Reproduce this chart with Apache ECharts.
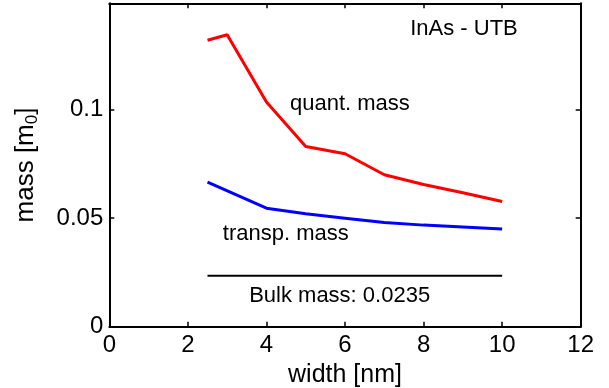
<!DOCTYPE html>
<html>
<head>
<meta charset="utf-8">
<script src="https://cdn.jsdelivr.net/npm/echarts@6/dist/echarts.min.js"></script>
<style>
html,body{margin:0;padding:0;background:#fff;}
#chart{width:609px;height:388px;}
</style>
</head>
<body>
<div id="chart"></div>
<script>
// Data
var quantWidths = [2.5, 3, 4, 5, 6, 7, 8, 9, 10];
var quantMass   = [0.132, 0.1345, 0.1035, 0.083, 0.0797, 0.070, 0.0655, 0.0617, 0.0577];
var transpWidths = [2.5, 4, 5, 6, 7, 8, 9, 10];
var transpMass   = [0.0666, 0.0546, 0.052, 0.050, 0.048, 0.0468, 0.0459, 0.045];
var bulkWidths = [2.5, 10];
var bulkMassValue = 0.0235;
var xTicks = [0, 2, 4, 6, 8, 10, 12];
var yTicks = [0, 0.05, 0.1];

function pairs(xs, ys) { return xs.map(function (x, i) { return [x, ys[i]]; }); }

var FONT = 'Liberation Sans';
var chart = echarts.init(document.getElementById('chart'), null, {renderer: 'canvas'});

function textMark(coord, text, size) {
  return {
    coord: coord, symbol: 'circle', symbolSize: 0,
    label: {show: true, position: 'right', distance: 0, formatter: text,
            color: '#000', fontFamily: FONT, fontSize: size}
  };
}

var axisCommon = {
  axisLine: {show: true, onZero: false, lineStyle: {color: '#000', width: 2}},
  axisTick: {show: true, inside: true, length: 5, lineStyle: {color: '#000', width: 1.5}},
  splitLine: {show: false}
};

var option = {
  animation: false,
  backgroundColor: '#fff',
  grid: {left: 109.3, right: 28.3, top: 3.3, bottom: 61.3, containLabel: false, outerBoundsMode: 'none'},
  xAxis: [
    Object.assign({}, axisCommon, {
      type: 'value', min: 0, max: 12, interval: 2, position: 'bottom',
      name: 'width [nm]', nameLocation: 'middle', nameGap: 31,
      nameTextStyle: {color: '#000', fontFamily: FONT, fontSize: 25},
      axisLabel: {color: '#000', fontFamily: FONT, fontSize: 24, margin: 7,
                  customValues: xTicks}
    }),
    Object.assign({}, axisCommon, {
      type: 'value', min: 0, max: 12, interval: 2, position: 'top',
      axisLabel: {show: false}
    })
  ],
  yAxis: [
    Object.assign({}, axisCommon, {
      type: 'value', min: 0, max: 0.149, interval: 0.05, position: 'left',
      name: 'mass [m{sub|0}]', nameLocation: 'middle', nameGap: 68,
      nameTextStyle: {color: '#000', fontFamily: FONT, fontSize: 26,
                      rich: {sub: {fontFamily: FONT, fontSize: 17, color: '#000', padding: [14, 0, 0, 0]}}},
      axisLabel: {color: '#000', fontFamily: FONT, fontSize: 24, margin: 6,
                  customValues: yTicks, formatter: function (v) { return String(v); }},
      axisTick: {show: true, inside: true, length: 5, lineStyle: {color: '#000', width: 1.5}, customValues: yTicks}
    }),
    Object.assign({}, axisCommon, {
      type: 'value', min: 0, max: 0.149, interval: 0.05, position: 'right',
      axisLabel: {show: false},
      axisTick: {show: true, inside: true, length: 5, lineStyle: {color: '#000', width: 1.5}, customValues: yTicks}
    })
  ],
  series: [
    {
      name: 'quant. mass', type: 'line', data: pairs(quantWidths, quantMass),
      showSymbol: false, symbol: 'none', lineStyle: {color: '#ff0000', width: 3}, itemStyle: {color: '#ff0000'},
      markPoint: {animation: false, data: [
        textMark([4.6, 0.1025], 'quant. mass', 22),
        textMark([7.66, 0.1374], 'InAs - UTB', 22)
      ]}
    },
    {
      name: 'transp. mass', type: 'line', data: pairs(transpWidths, transpMass),
      showSymbol: false, symbol: 'none', lineStyle: {color: '#0000ff', width: 3}, itemStyle: {color: '#0000ff'},
      markPoint: {animation: false, data: [
        textMark([2.89, 0.0428], 'transp. mass', 22)
      ]}
    },
    {
      name: 'Bulk mass', type: 'line', data: bulkWidths.map(function (x) { return [x, bulkMassValue]; }),
      showSymbol: false, symbol: 'none', lineStyle: {color: '#000', width: 2}, itemStyle: {color: '#000'},
      markPoint: {animation: false, data: [
        textMark([3.56, 0.0140], 'Bulk mass: ' + bulkMassValue, 22)
      ]}
    }
  ]
};
chart.setOption(option);
</script>
</body>
</html>
